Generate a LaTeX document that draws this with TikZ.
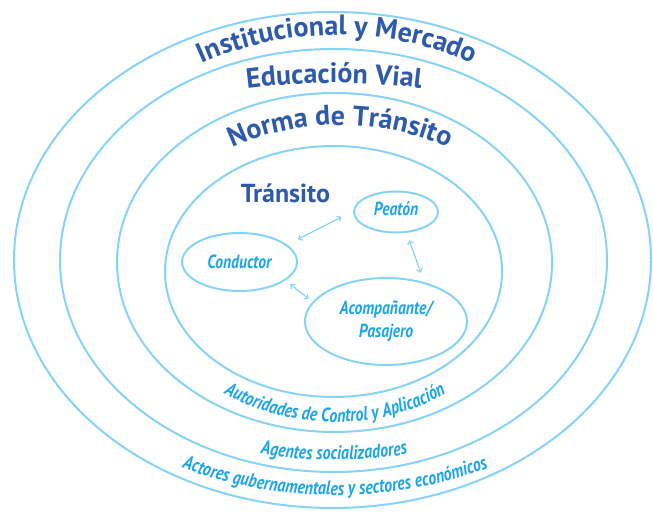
\documentclass[tikz,border=0pt]{standalone}
\usepackage{fontspec}
\setmainfont{PT Sans}
\newfontfamily\condit[FakeStretch=0.82]{PT Sans}
\usetikzlibrary{shapes.geometric,decorations.text,arrows.meta}
\definecolor{lineblue}{RGB}{135,210,247}
\definecolor{cyantext}{RGB}{30,165,228}
\definecolor{darkblue}{RGB}{45,90,170}
\newcommand{\bigfmt}{\bfseries\fontsize{28}{28}\selectfont\color{darkblue}}
\newcommand{\smallfmt}{\condit\bfseries\itshape\fontsize{19.5}{19.5}\selectfont\color{cyantext}}
\begin{document}
\begin{tikzpicture}[x=1pt,y=1pt,
  ring/.style={draw=lineblue, line width=2pt},
  actor/.style={ellipse, draw=lineblue, line width=2pt, inner sep=0pt,
    text=cyantext, font=\condit\bfseries\itshape\fontsize{19}{23}\selectfont, align=center},
  link/.style={draw=lineblue, line width=1.2pt,
    {Straight Barb[length=3pt,width=6pt]}-{Straight Barb[length=3pt,width=6pt]}},
  arclabel/.style={decorate, decoration={text along path, text align=center, text={#1}}}
]
\useasboundingbox (0,0) rectangle (653,513);
% rings
\draw[ring] (332.5,253) ellipse [x radius=318.5, y radius=248];
\draw[ring] (333.5,252.5) ellipse [x radius=273.5, y radius=211.5];
\draw[ring] (334.5,250.5) ellipse [x radius=217.5, y radius=169.5];
\draw[ring] (333.5,241.5) ellipse [x radius=168.5, y radius=125.5];
% top labels
\path[arclabel={|\bigfmt|Institucional y Mercado}]
  (337,253) ++(150:277 and 225) arc[start angle=150, end angle=30, x radius=277, y radius=225];
\path[arclabel={|\bigfmt|Educación Vial}]
  (334,251) ++(120:360 and 179) arc[start angle=120, end angle=60, x radius=360, y radius=179];
\path[arclabel={|\bigfmt|Norma de Tránsito}]
  (340,251) ++(160:195 and 137) arc[start angle=160, end angle=20, x radius=195, y radius=137];
% bottom labels
\path[arclabel={|\smallfmt|Autoridades de Control y Aplicación}]
  (335,251) ++(200:195 and 160) arc[start angle=200, end angle=340, x radius=195, y radius=160];
\path[arclabel={|\smallfmt|Agentes socializadores}]
  (334,251) ++(230:300 and 198) arc[start angle=230, end angle=310, x radius=300, y radius=198];
\path[arclabel={|\smallfmt|Actores gubernamentales y sectores económicos}]
  (335,253) ++(200:328 and 235) arc[start angle=200, end angle=340, x radius=328, y radius=235];
% inner
\node[font=\bfseries\fontsize{26}{26}\selectfont, text=darkblue, anchor=base] (tran) at (285.5,310) {Tránsito};
\node[actor, minimum width=84pt, minimum height=41pt] (peat) at (396,301) {\raisebox{6pt}{Peatón}};
\node[actor, minimum width=115pt, minimum height=58pt] (cond) at (239.5,251) {Conductor};
\node[actor, minimum width=162pt, minimum height=87pt] (acom) at (386,191.5) {Acompañante/\\Pasajero};
\draw[link, shorten <=12pt, shorten >=13pt] (cond.20) -- (peat.179);
\draw[link, shorten <=8pt, shorten >=10pt] (peat.297) -- (acom.46);
\draw[link, shorten <=6pt, shorten >=5pt] (cond.-22) -- (acom.165);
\end{tikzpicture}
\end{document}
